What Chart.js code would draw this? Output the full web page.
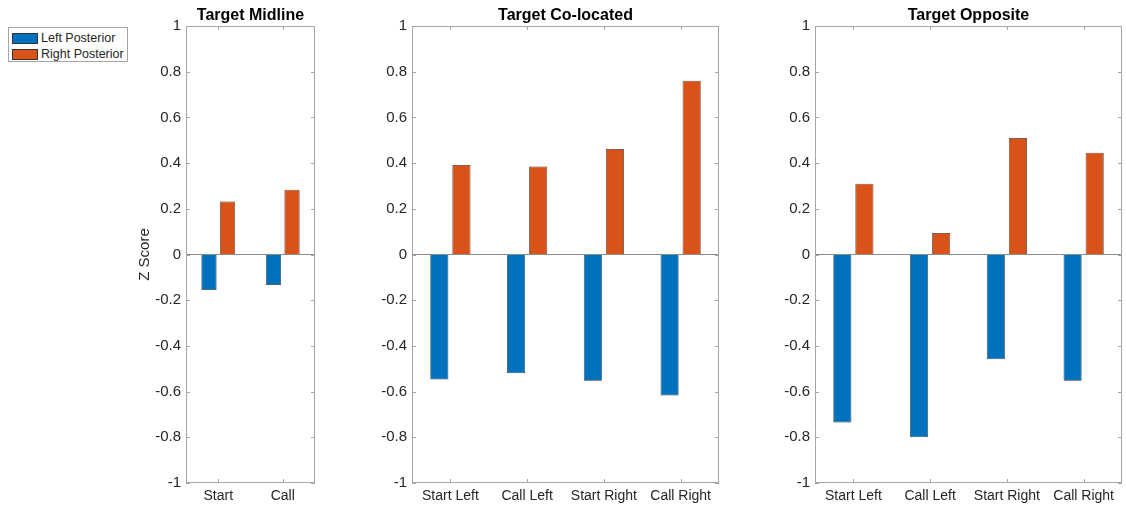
<!DOCTYPE html>
<html>
<head>
<meta charset="utf-8">
<script src="https://cdn.jsdelivr.net/npm/chart.js@4/dist/chart.umd.min.js"></script>
<style>
  body { margin: 0; background: #fff; width: 1126px; height: 506px; overflow: hidden; position: relative; font-family: "Liberation Sans", Arial, Helvetica, sans-serif; }
  canvas { position: absolute; top: 0; }
  #legend { position: absolute; left: 8px; top: 27px; width: 120px; height: 35px; border: 1px solid #a6a6a6; background: #fff; padding: 2px 0 0 3px; box-sizing: border-box; }
  #legend .row { display: flex; align-items: center; height: 16px; font-size: 12.5px; color: #262626; }
  #legend .sw { width: 26px; height: 11px; margin-right: 3px; box-sizing: border-box; border: 0.5px solid #333; }
</style>
</head>
<body>
<div id="legend"></div>
<canvas id="midline" width="187" height="506" style="left:133px"></canvas>
<canvas id="colocated" width="352" height="506" style="left:372px"></canvas>
<canvas id="opposite" width="351" height="506" style="left:775px"></canvas>
<script>
const seriesNames = ["Left Posterior", "Right Posterior"];
const seriesColors = ["#0072BD", "#D95319"];
const yTickVals = [-1, -0.8, -0.6, -0.4, -0.2, 0, 0.2, 0.4, 0.6, 0.8, 1];

const midCats = ["Start", "Call"];
const midLeft = [-0.155, -0.133];
const midRight = [0.232, 0.283];

const coCats = ["Start Left", "Call Left", "Start Right", "Call Right"];
const coLeft = [-0.547, -0.52, -0.553, -0.617];
const coRight = [0.392, 0.385, 0.462, 0.76];

const oppCats = ["Start Left", "Call Left", "Start Right", "Call Right"];
const oppLeft = [-0.735, -0.8, -0.458, -0.553];
const oppRight = [0.31, 0.094, 0.51, 0.445];

const FONT = "'Liberation Sans', Arial, Helvetica, sans-serif";
const TXT = "#262626";

// matlab style axes: full box, inward ticks, title centred on the axes
const boxPlugin = {
  id: "matlabBox",
  afterDraw(chart) {
    const { ctx, chartArea: a, scales } = chart;
    ctx.save();
    ctx.strokeStyle = "#a6a6a6";
    ctx.lineWidth = 1;
    ctx.strokeRect(a.left + 0.5, a.top + 0.5, a.right - a.left - 1, a.bottom - a.top - 1);
    ctx.beginPath();
    scales.y.ticks.forEach((t) => {
      const py = Math.round(scales.y.getPixelForValue(t.value)) + 0.5;
      ctx.moveTo(a.left, py); ctx.lineTo(a.left + 4, py);
      ctx.moveTo(a.right, py); ctx.lineTo(a.right - 4, py);
    });
    scales.x.ticks.forEach((t, i) => {
      const px = Math.round(scales.x.getPixelForTick(i)) + 0.5;
      ctx.moveTo(px, a.bottom); ctx.lineTo(px, a.bottom - 4);
      ctx.moveTo(px, a.top); ctx.lineTo(px, a.top + 4);
    });
    ctx.stroke();
    const title = chart.options.plugins.matlabBox.text;
    ctx.fillStyle = "#000";
    ctx.font = "bold 16px " + FONT;
    ctx.textAlign = "center";
    ctx.textBaseline = "alphabetic";
    ctx.fillText(title, (a.left + a.right) / 2, a.top - 6);
    ctx.restore();
  }
};

function makeChart(id, cats, left, right, title, yWidth, padRight, showYTitle) {
  return new Chart(document.getElementById(id), {
    type: "bar",
    data: {
      labels: cats,
      datasets: [
        { label: seriesNames[0], data: left, backgroundColor: seriesColors[0] },
        { label: seriesNames[1], data: right, backgroundColor: seriesColors[1] }
      ]
    },
    options: {
      responsive: false,
      animation: false,
      devicePixelRatio: 1,
      layout: { padding: { top: 26, right: padRight, left: 0, bottom: 0 } },
      datasets: {
        bar: { categoryPercentage: 0.575, barPercentage: 0.82, borderWidth: 0.75, borderColor: "#333" }
      },
      plugins: {
        legend: { display: false },
        tooltip: { enabled: false },
        matlabBox: { text: title }
      },
      scales: {
        x: {
          grid: { display: false, drawTicks: false },
          border: { display: false },
          ticks: { color: TXT, font: { family: FONT, size: 14 }, padding: 5, maxRotation: 0 },
          afterFit(s) { s.height = 23; }
        },
        y: {
          min: -1,
          max: 1,
          afterBuildTicks(s) { s.ticks = yTickVals.map((v) => ({ value: v })); },
          grid: {
            drawTicks: false,
            color: (c) => (c.tick && c.tick.value === 0 ? "#8c8c8c" : "rgba(0,0,0,0)"),
            lineWidth: 1
          },
          border: { display: false },
          ticks: {
            color: TXT,
            font: { family: FONT, size: 15 },
            padding: 5,
            callback: (v) => String(Math.round(v * 10) / 10)
          },
          title: { display: showYTitle, text: "Z Score", color: TXT, font: { family: FONT, size: 15 }, padding: 3 },
          afterFit(s) { s.width = yWidth; }
        }
      }
    },
    plugins: [boxPlugin]
  });
}

const c1 = makeChart("midline", midCats, midLeft, midRight, "Target Midline", 53, 5, true);
makeChart("colocated", coCats, coLeft, coRight, "Target Co-located", 40, 5, false);
makeChart("opposite", oppCats, oppLeft, oppRight, "Target Opposite", 40, 4, false);

// html legend built from the first chart's datasets
const legend = document.getElementById("legend");
c1.data.datasets.forEach((ds) => {
  const row = document.createElement("div");
  row.className = "row";
  const sw = document.createElement("span");
  sw.className = "sw";
  sw.style.background = ds.backgroundColor;
  row.appendChild(sw);
  row.appendChild(document.createTextNode(ds.label));
  legend.appendChild(row);
});
</script>
</body>
</html>
